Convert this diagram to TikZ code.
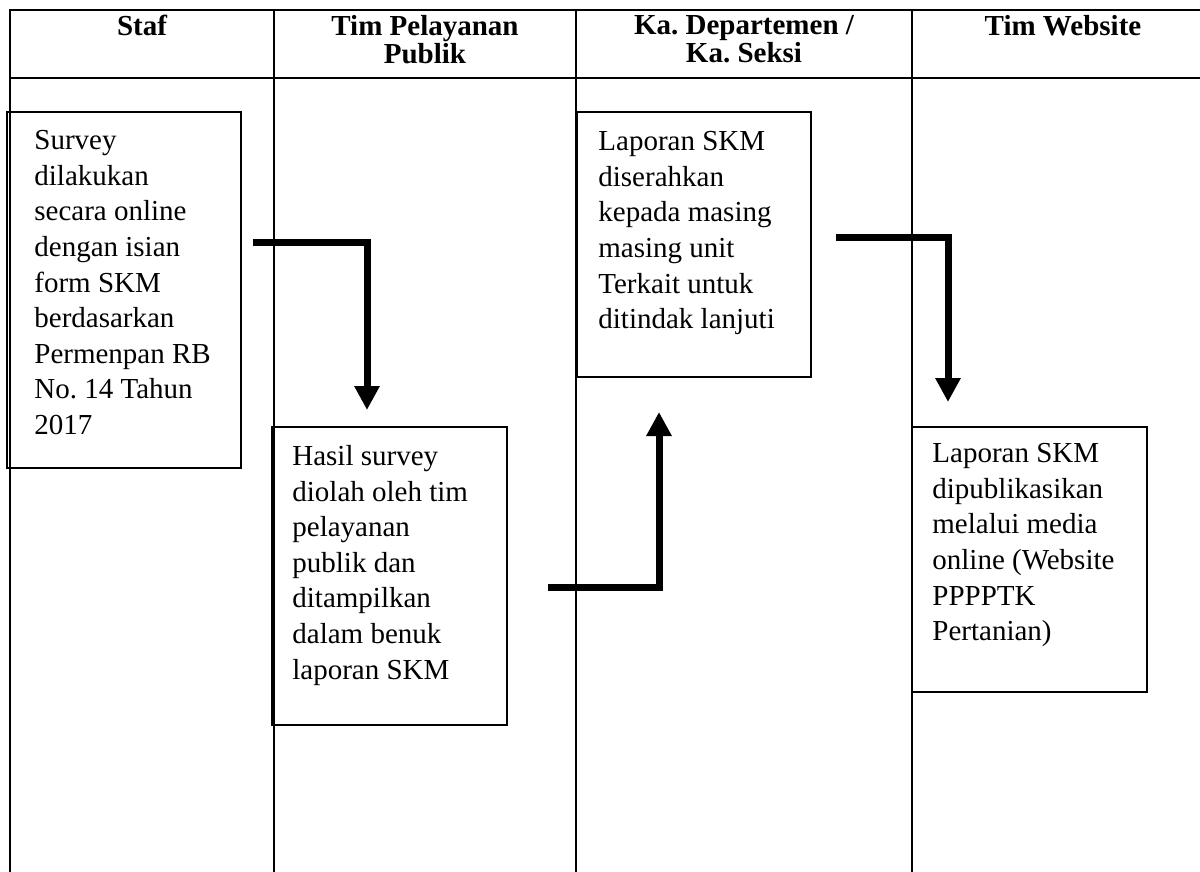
\documentclass[tikz,border=0pt]{standalone}
\usepackage{fontspec}
\setmainfont{Liberation Serif}
\usetikzlibrary{arrows.meta,fit}
\frenchspacing

\begin{document}
\begin{tikzpicture}[x=0.5pt,y=-0.5pt,
  procbox/.style={draw,line width=1pt,inner sep=0pt},
  boxtext/.style={anchor=north west,inner sep=0pt,align=left,
    font=\fontsize{14.5}{17.8}\selectfont},
  headtext/.style={anchor=north,inner sep=0pt,align=center,
    font=\fontsize{14.5}{14}\selectfont\bfseries},
  flow/.style={line width=3.5pt,line join=miter,
    -{Triangle[width=12pt,length=12pt]}}]

\useasboundingbox (0,0) rectangle (1200,872);

\begin{scope}[line width=1pt] % Frame of the table
  \draw (10,872) -- (10,10) -- (1200,10);
  \draw (10,78) -- (1200,78);
  \foreach \x in {274,576,912}
    \draw (\x,10) -- (\x,872);
\end{scope}

\begin{scope} % column heads
  \node[headtext] (staf) at (142,15) {Staf};
  \node[headtext] (pelayanan) at (425,15) {Tim Pelayanan\\Publik};
  \node[headtext] (kadept) at (744,15) {Ka. Departemen /\\Ka. Seksi};
  \node[headtext] (website) at (1063,15) {Tim Website};
\end{scope}

\begin{scope} % process boxes
  \node[procbox,fit={(7,112) (241,468)}] (survey) {};
  \node[boxtext] (surveytxt) at (34,130) {Survey\\dilakukan\\secara online\\
    dengan isian\\form SKM\\berdasarkan\\Permenpan RB\\No. 14 Tahun\\2017};

  \node[procbox,fit={(272,427) (507,725)}] (olah) {};
  \node[boxtext] (olahtxt) at (292,445) {Hasil survey\\diolah oleh tim\\
    pelayanan\\publik dan\\ditampilkan\\dalam benuk\\laporan SKM};

  \node[procbox,fit={(577,112) (811,377)}] (serah) {};
  \node[boxtext] (serahtxt) at (598,131) {Laporan SKM\\diserahkan\\
    kepada masing\\masing unit\\Terkait untuk\\ditindak lanjuti};

  \node[procbox,fit={(912,427) (1147,692)}] (publik) {};
  \node[boxtext] (publiktxt) at (932,443) {Laporan SKM\\dipublikasikan\\
    melalui media\\online (Website\\PPPPTK\\Pertanian)};
\end{scope}

\begin{scope} % flow arrows
  \coordinate (f1a) at (253,242);
  \coordinate (f1b) at (367,410);
  \coordinate (f2a) at (548,587);
  \coordinate (f2b) at (659,412);
  \coordinate (f3a) at (836,237);
  \coordinate (f3b) at (948,402);
  \draw[flow] (f1a) -| (f1b);
  \draw[flow] (f2a) -| (f2b);
  \draw[flow] (f3a) -| (f3b);
\end{scope}

\end{tikzpicture}
\end{document}
